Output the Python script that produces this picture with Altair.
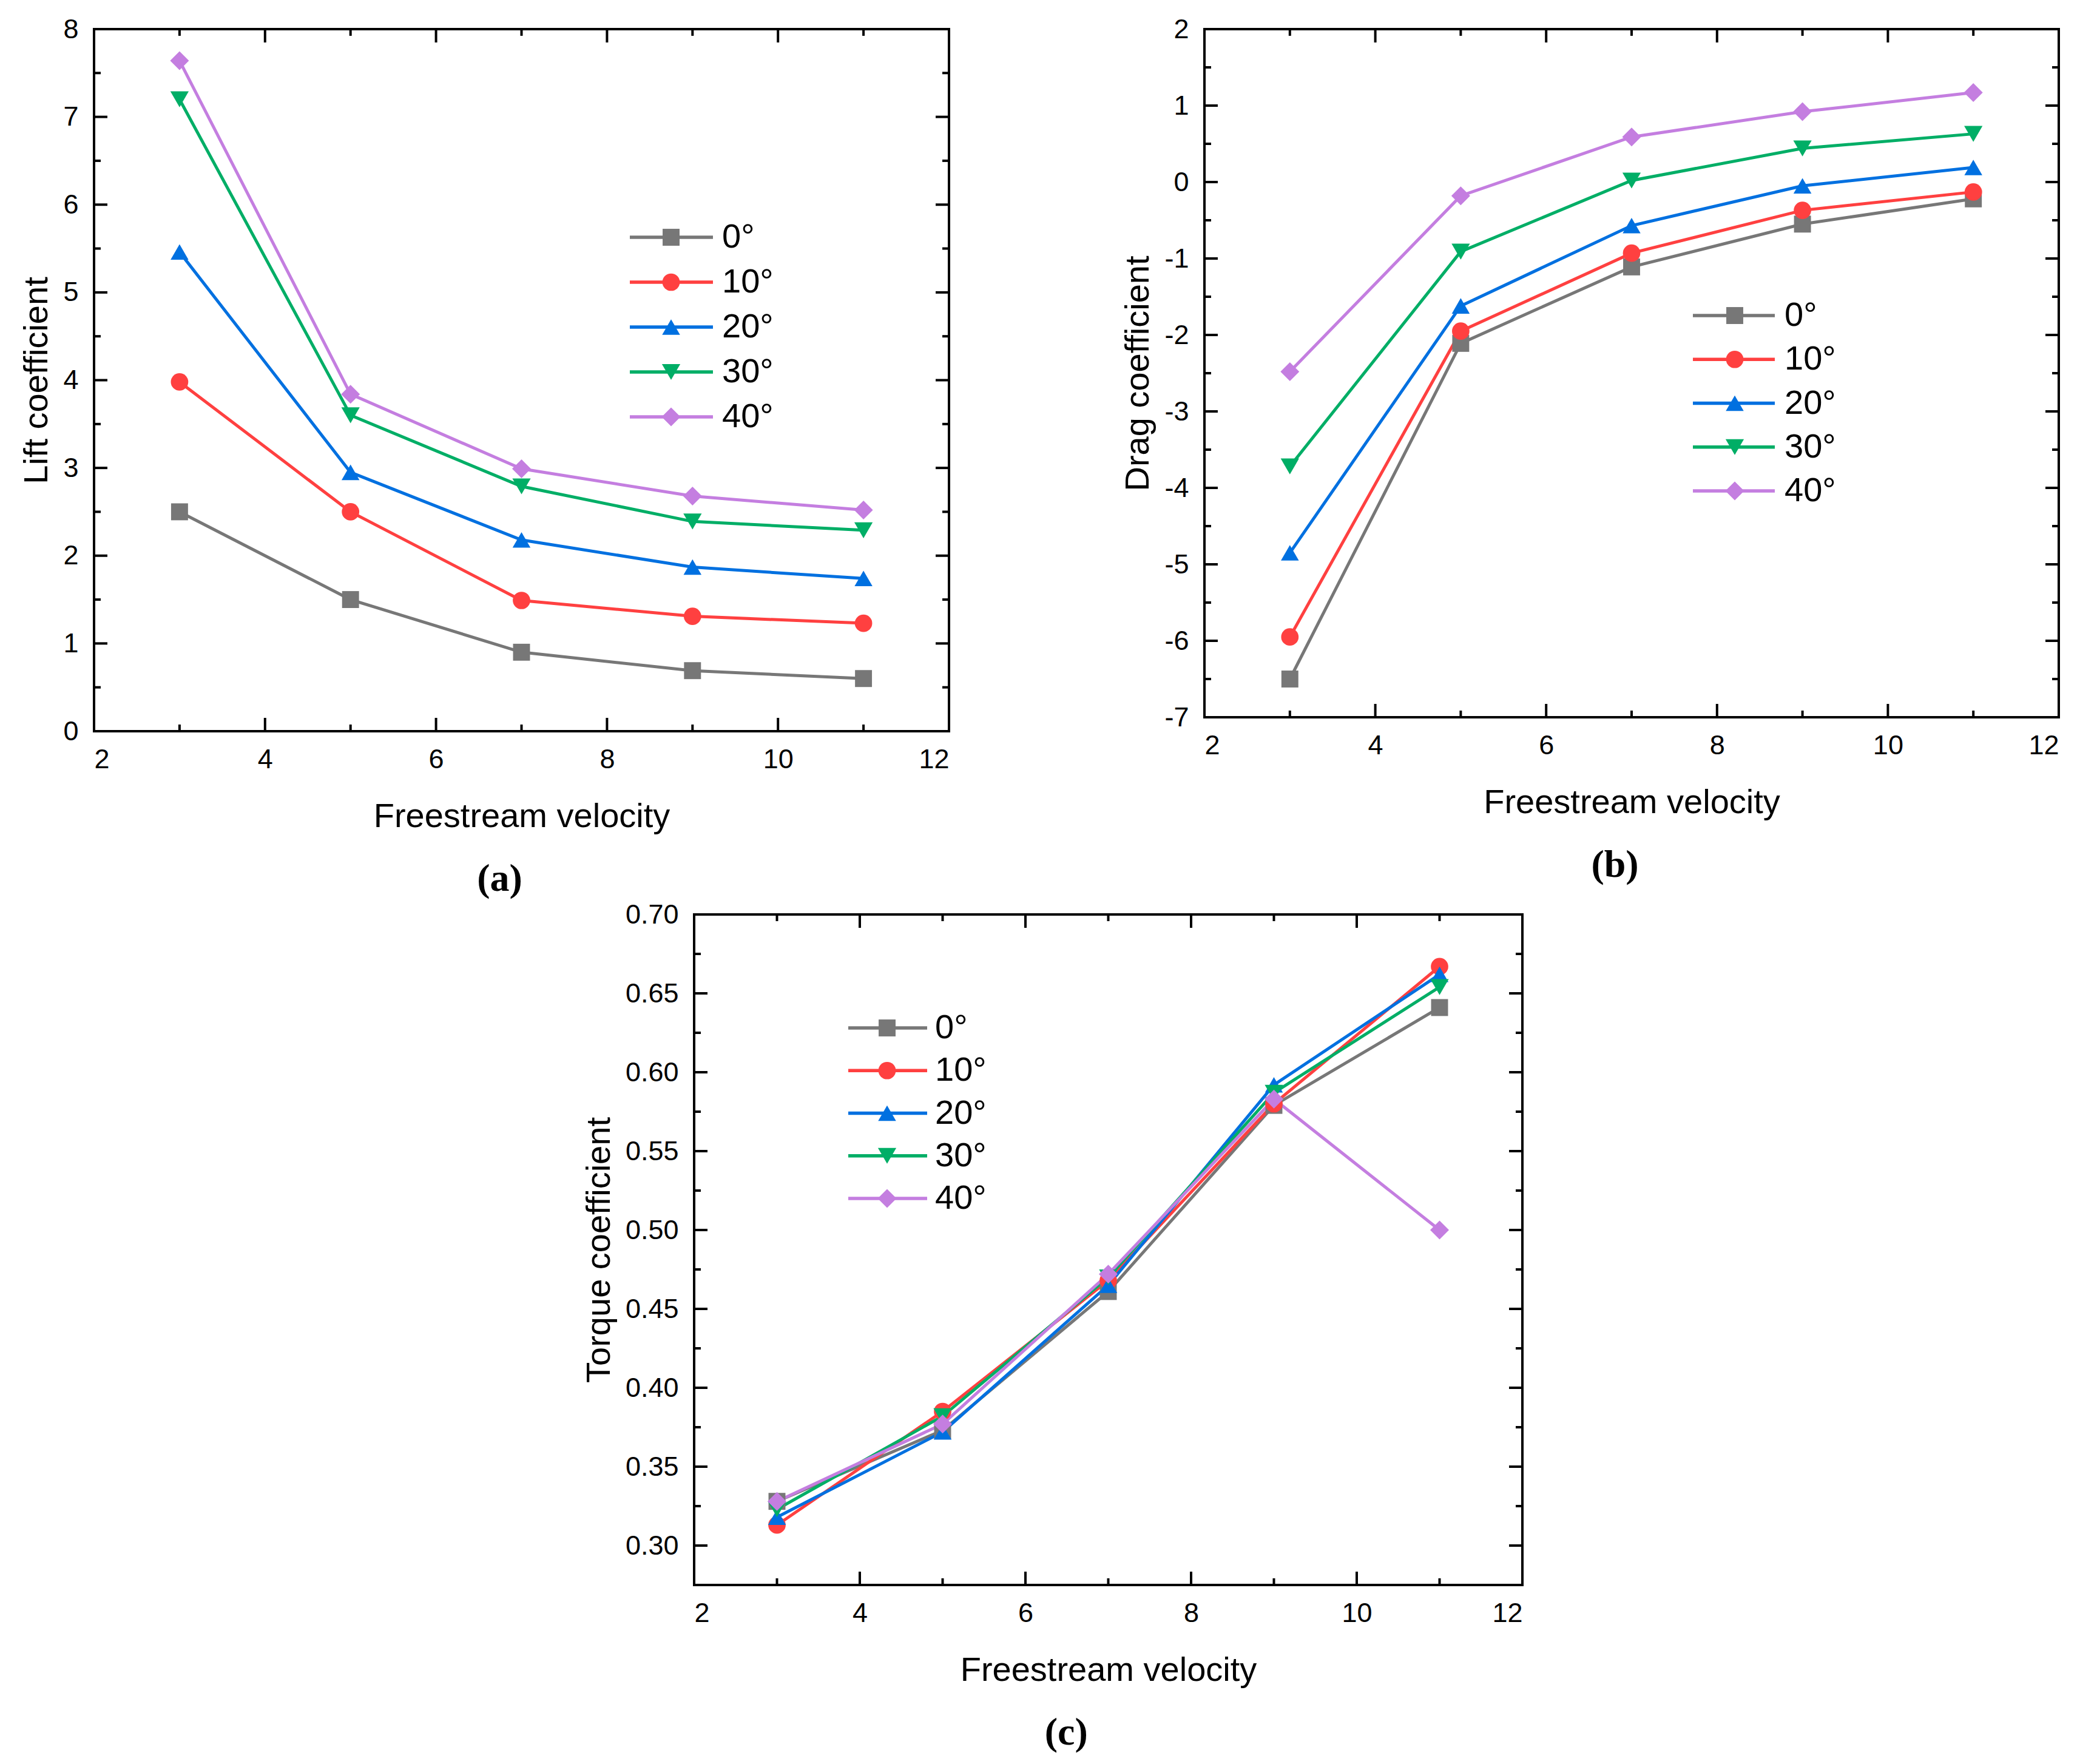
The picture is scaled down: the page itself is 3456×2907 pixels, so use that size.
import altair as alt
import pandas as pd

# freestream velocity and blade pitch angle series
velocity = [3, 5, 7, 9, 11]
series = ["0°", "10°", "20°", "30°", "40°"]
colors = ["#777777", "#FF4040", "#0070E0", "#00AE66", "#C47EE0"]
shapes = ["square", "circle", "triangle-up", "triangle-down", "diamond"]
marker_sizes = [780, 960, 1250, 1250, 1250]

# (a) lift coefficient
lift_0 = [2.50, 1.50, 0.90, 0.69, 0.60]
lift_10 = [3.98, 2.50, 1.49, 1.31, 1.23]
lift_20 = [5.46, 2.95, 2.18, 1.87, 1.74]
lift_30 = [7.20, 3.60, 2.79, 2.39, 2.29]
lift_40 = [7.64, 3.84, 2.99, 2.68, 2.52]

# (b) drag coefficient
drag_0 = [-6.50, -2.11, -1.11, -0.55, -0.22]
drag_10 = [-5.95, -1.95, -0.93, -0.37, -0.13]
drag_20 = [-4.85, -1.62, -0.57, -0.05, 0.19]
drag_30 = [-3.72, -0.91, 0.02, 0.44, 0.63]
drag_40 = [-2.48, -0.18, 0.59, 0.92, 1.17]

# (c) torque coefficient
torque_0 = [0.328, 0.373, 0.461, 0.579, 0.641]
torque_10 = [0.313, 0.385, 0.468, 0.580, 0.667]
torque_20 = [0.318, 0.372, 0.465, 0.592, 0.662]
torque_30 = [0.323, 0.382, 0.470, 0.587, 0.654]
torque_40 = [0.328, 0.377, 0.472, 0.583, 0.500]

x_major = [2, 4, 6, 8, 10, 12]
x_minor = [3, 5, 7, 9, 11]

FONT = "Liberation Sans"
color_scale = alt.Scale(domain=series, range=colors)
shape_scale = alt.Scale(domain=series, range=shapes)
size_scale = alt.Scale(domain=series, range=marker_sizes)


def long_frame(columns):
    rows = []
    for name, vals in zip(series, columns):
        for v, y in zip(velocity, vals):
            rows.append({"velocity": v, "value": y, "series": name})
    return pd.DataFrame(rows)


def tick_layers(xs, ys, x_axis, y_axis, y_major, y_minor, w, h):
    # Origin-style inward ticks on all four sides
    layers = []
    for vals, ln in ((x_major, 22), (x_minor, 11)):
        base = alt.Chart(pd.DataFrame({"t": vals})).mark_rule(color="black", strokeWidth=4)
        x = alt.X("t:Q", scale=xs, axis=x_axis)
        layers.append(base.encode(x=x, y=alt.value(h), y2=alt.value(h - ln)))
        layers.append(base.encode(x=x, y=alt.value(0), y2=alt.value(ln)))
    for vals, ln in ((y_major, 22), (y_minor, 11)):
        base = alt.Chart(pd.DataFrame({"t": vals})).mark_rule(color="black", strokeWidth=4)
        y = alt.Y("t:Q", scale=ys, axis=y_axis)
        layers.append(base.encode(y=y, x=alt.value(0), x2=alt.value(ln)))
        layers.append(base.encode(y=y, x=alt.value(w), x2=alt.value(w - ln)))
    return layers


def panel(columns, y_title, y_domain, y_major, y_minor, label_fmt, w, h, leg, caption, cap_dx):
    df = long_frame(columns)
    xs = alt.Scale(domain=[2, 12], nice=False, zero=False)
    ys = alt.Scale(domain=y_domain, nice=False, zero=False)
    x_axis = alt.Axis(values=x_major, title="Freestream velocity")
    if label_fmt:
        y_axis = alt.Axis(values=y_major, title=y_title, format=label_fmt)
    else:
        y_axis = alt.Axis(values=y_major, title=y_title,
                          labelExpr="replace(datum.label, '\u2212', '-')")
    color = alt.Color("series:N", scale=color_scale, legend=None)

    lines = alt.Chart(df).mark_line(strokeWidth=5).encode(
        x=alt.X("velocity:Q", scale=xs, axis=x_axis),
        y=alt.Y("value:Q", scale=ys, axis=y_axis),
        color=color,
        detail="series:N",
    )
    points = alt.Chart(df).mark_point(filled=True, opacity=1).encode(
        x=alt.X("velocity:Q", scale=xs, axis=x_axis),
        y=alt.Y("value:Q", scale=ys, axis=y_axis),
        color=color,
        shape=alt.Shape("series:N", scale=shape_scale, legend=None),
        size=alt.Size("series:N", scale=size_scale, legend=None),
    )
    plot = alt.layer(lines, points,
                     *tick_layers(xs, ys, x_axis, y_axis, y_major, y_minor, w, h))

    # legend drawn inside the frame, Origin style (line through marker)
    x0, xm, x1, xt, y0, y1 = leg
    ldf = pd.DataFrame({"series": series})
    ly = alt.Y("series:N", axis=None,
               scale=alt.Scale(type="point", domain=series, range=[y0, y1], padding=0))
    leg_line = alt.Chart(ldf).mark_rule(strokeWidth=5.5).encode(
        x=alt.value(x0), x2=alt.value(x1), y=ly, color=color)
    leg_pts = alt.Chart(ldf).mark_point(filled=True, opacity=1).encode(
        x=alt.value(xm), y=ly, color=color,
        shape=alt.Shape("series:N", scale=shape_scale, legend=None),
        size=alt.Size("series:N", scale=size_scale, legend=None))
    leg_txt = alt.Chart(ldf).mark_text(
        align="left", baseline="middle", font=FONT, fontSize=56, color="black"
    ).encode(x=alt.value(xt), y=ly, text="series:N")
    legend = alt.layer(leg_line, leg_pts, leg_txt)

    return alt.layer(plot, legend).resolve_scale(y="independent").properties(
        width=w,
        height=h,
        title=alt.TitleParams(caption, orient="bottom", anchor="middle", frame="bounds",
                              font="Liberation Serif", fontSize=64, fontWeight="bold",
                              color="black", offset=44, dx=cap_dx),
    )


pa = panel([lift_0, lift_10, lift_20, lift_30, lift_40], "Lift coefficient",
           [0, 8], list(range(0, 9)), [i + 0.5 for i in range(0, 8)], None,
           1409, 1157, (883, 951, 1020, 1035, 343, 639), "(a)", 24)
pb = panel([drag_0, drag_10, drag_20, drag_30, drag_40], "Drag coefficient",
           [-7, 2], list(range(-7, 3)), [i + 0.5 for i in range(-7, 2)], None,
           1408, 1134, (805, 874, 940, 956, 472, 761), "(b)", 40)
pc = panel([torque_0, torque_10, torque_20, torque_30, torque_40], "Torque coefficient",
           [0.275, 0.70], [0.30, 0.35, 0.40, 0.45, 0.50, 0.55, 0.60, 0.65, 0.70],
           [0.275, 0.325, 0.375, 0.425, 0.475, 0.525, 0.575, 0.625, 0.675], ".2f",
           1365, 1105, (254, 318, 384, 397, 187, 468), "(c)", 22)

# empty spacer that pushes panel (c) towards the middle of the page
spacer = (
    alt.Chart(pd.DataFrame({"s": [0]}))
    .mark_point(opacity=0, size=1)
    .encode(x=alt.value(0), y=alt.value(0))
    .properties(width=802, height=1, view=alt.ViewBackground(strokeWidth=0))
)

chart = (
    alt.vconcat(
        alt.hconcat(pa, pb, spacing=277),
        alt.hconcat(spacer, pc, spacing=0),
        spacing=0,
    )
    .properties(padding={"left": 22, "top": 16, "right": 10, "bottom": 10}, background="white")
    .configure_view(stroke="black", strokeWidth=4)
    .configure_axis(
        grid=False, ticks=False, domain=False,
        labelFont=FONT, labelFontSize=45, labelColor="black",
        titleFont=FONT, titleFontSize=56, titleFontWeight="normal", titleColor="black",
    )
    .configure_axisX(labelPadding=24, titlePadding=44)
    .configure_axisY(labelPadding=26, titlePadding=14)
)

chart.save("out.html", embed_options={"renderer": "svg", "actions": False})
